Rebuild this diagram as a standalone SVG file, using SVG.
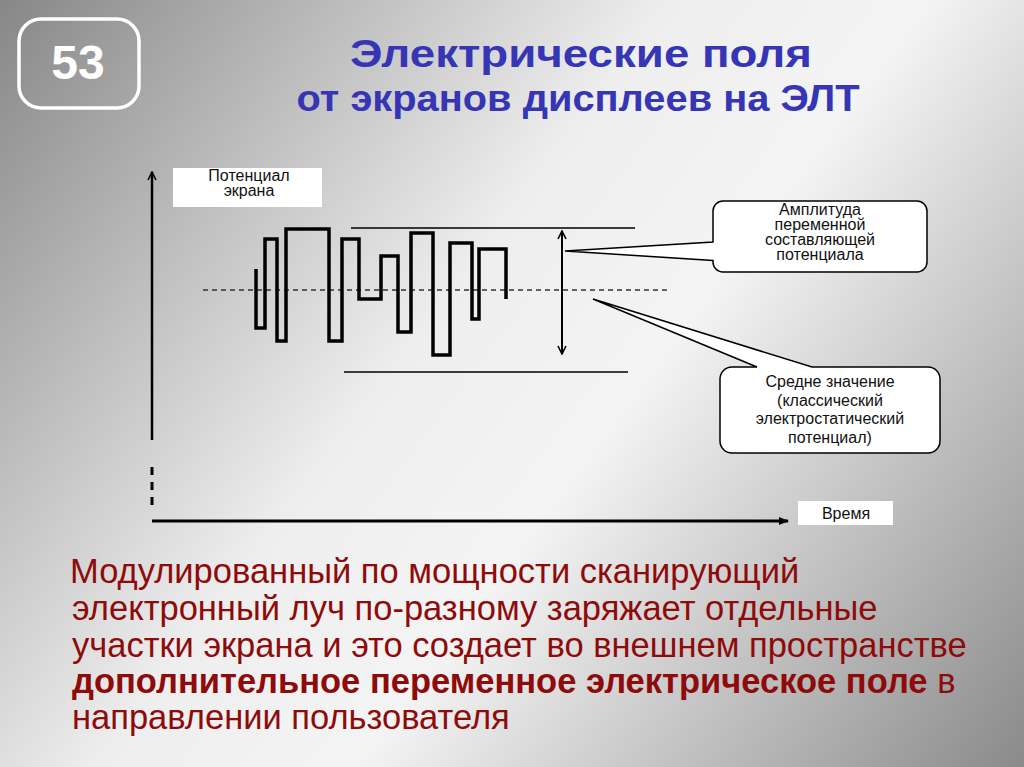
<svg xmlns="http://www.w3.org/2000/svg" width="1024" height="767" viewBox="0 0 1024 767">
<defs>
<linearGradient id="bg" x1="0" y1="0" x2="1024" y2="767" gradientUnits="userSpaceOnUse">
<stop offset="0" stop-color="#878787"/>
<stop offset="0.42" stop-color="#eeeeee"/>
<stop offset="0.58" stop-color="#f4f4f4"/>
<stop offset="1" stop-color="#8a8a8a"/>
</linearGradient>
<marker id="ah" viewBox="0 0 10 10" refX="9" refY="5" markerWidth="10" markerHeight="10" markerUnits="userSpaceOnUse" orient="auto-start-reverse">
<path d="M1,1 L9,5 L1,9" fill="none" stroke="#000" stroke-width="1.6"/>
</marker>
<marker id="ahf" viewBox="0 0 10 10" refX="9" refY="5" markerWidth="10" markerHeight="10" markerUnits="userSpaceOnUse" orient="auto">
<path d="M0,1 L10,5 L0,9 Z" fill="#000"/>
</marker>
<style>
.lbl{font-family:"Liberation Sans",Arial,sans-serif;font-size:16px;fill:#111;text-anchor:middle}
.title{font-family:"Liberation Sans",Arial,sans-serif;font-weight:bold;fill:#3535b5;text-anchor:middle}
.body{font-family:"Liberation Sans",Arial,sans-serif;font-size:34.5px;fill:#8e0b0b}
.box{fill:#fff;stroke:#000;stroke-width:1.5}
.ln{stroke:#000;fill:none}
</style>
</defs>
<rect width="1024" height="767" fill="url(#bg)"/>

<g id="badge">
<rect x="19" y="19" width="120" height="89" rx="22" fill="none" stroke="#fff" stroke-width="3.5"/>
<text x="78" y="79" font-family="Liberation Sans,Arial,sans-serif" font-weight="bold" font-size="48" fill="#fff" text-anchor="middle">53</text>
</g>

<g id="title">
<text class="title" x="581" y="67" font-size="38" textLength="462" lengthAdjust="spacingAndGlyphs">Электрические поля</text>
<text class="title" x="578" y="111" font-size="36" textLength="563" lengthAdjust="spacingAndGlyphs">от экранов дисплеев на ЭЛТ</text>
</g>

<g id="axes">
<line class="ln" x1="152" y1="440" x2="152" y2="172" stroke-width="2.5" marker-end="url(#ah)"/>
<line class="ln" x1="152" y1="467" x2="152" y2="508" stroke-width="3" stroke-dasharray="8,7"/>
<line class="ln" x1="152" y1="521" x2="788" y2="521" stroke-width="3" marker-end="url(#ahf)"/>
</g>

<g id="label-potential">
<rect x="173" y="168" width="149" height="39" fill="#fff"/>
<text class="lbl" x="249" y="181">Потенциал</text>
<text class="lbl" x="249" y="196">экрана</text>
</g>

<g id="label-time">
<rect x="798" y="501" width="95" height="24" fill="#fff"/>
<text class="lbl" x="846" y="519" font-size="17">Время</text>
</g>

<g id="reference-lines">
<line class="ln" x1="351" y1="228" x2="635" y2="228" stroke-width="1.5"/>
<line class="ln" x1="344" y1="372" x2="628" y2="372" stroke-width="1.5"/>
<line x1="203" y1="290" x2="668" y2="290" stroke="#333" stroke-width="1.5" stroke-dasharray="5,4"/>
</g>

<g id="waveform">
<path class="ln" stroke-width="3.5" stroke-linejoin="miter" d="M256,269 V328 H265 V239 H277 V341 H286 V229 H329 V341 H342 V239 H359 V299 H381 V256 H398 V332 H411 V233 H433 V355 H450 V243 H472 V319 H479 V249 H506 V299"/>
</g>

<g id="amplitude-arrow">
<line class="ln" x1="562" y1="231" x2="562" y2="354" stroke-width="2" marker-start="url(#ah)" marker-end="url(#ah)"/>
</g>

<g id="callout-amplitude">
<path class="box" d="M723,201 H917 A10,10 0 0 1 927,211 V262 A10,10 0 0 1 917,272 H723 A10,10 0 0 1 713,262 V260.5 L565,251 L713,242 V211 A10,10 0 0 1 723,201 Z"/>
<text class="lbl" x="820" y="215">Амплитуда</text>
<text class="lbl" x="820" y="230">переменной</text>
<text class="lbl" x="820" y="245">составляющей</text>
<text class="lbl" x="820" y="260">потенциала</text>
</g>

<g id="callout-mean">
<path class="box" d="M732,367 H757 L593,299 L812,367 H928 A12,12 0 0 1 940,379 V441 A12,12 0 0 1 928,453 H732 A12,12 0 0 1 720,441 V379 A12,12 0 0 1 732,367 Z"/>
<text class="lbl" font-size="17" x="830" y="387">Средне значение</text>
<text class="lbl" font-size="17" x="830" y="406">(классический</text>
<text class="lbl" font-size="17" x="830" y="424">электростатический</text>
<text class="lbl" font-size="17" x="830" y="443">потенциал)</text>
</g>

<g id="body-text">
<text class="body" x="70" y="583">Модулированный по мощности сканирующий</text>
<text class="body" x="72" y="620">электронный луч по-разному заряжает отдельные</text>
<text class="body" x="72" y="657">участки экрана и это создает во внешнем пространстве</text>
<text class="body" x="72" y="693"><tspan font-weight="bold">дополнительное переменное электрическое поле</tspan> в</text>
<text class="body" x="72" y="729">направлении пользователя</text>
</g>
</svg>
